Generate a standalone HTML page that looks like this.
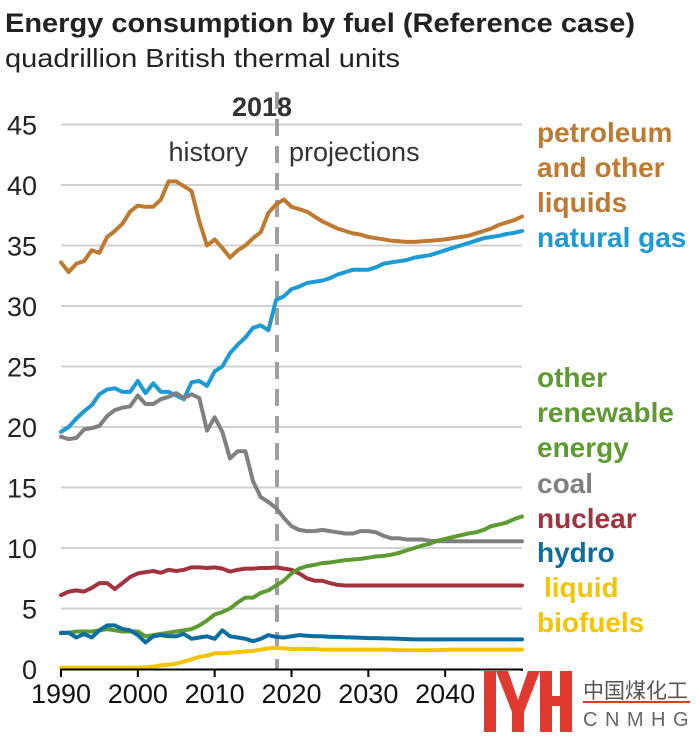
<!DOCTYPE html>
<html><head><meta charset="utf-8"><style>
html,body{margin:0;padding:0;background:#fff;}
body{width:696px;height:737px;overflow:hidden;font-family:"Liberation Sans",Arial,sans-serif;}
</style></head><body>
<svg id="s" width="696" height="737" xmlns="http://www.w3.org/2000/svg" font-family="Liberation Sans, Arial, sans-serif">
<text x="5" y="32" font-size="27" font-weight="bold" fill="#222" textLength="630" lengthAdjust="spacingAndGlyphs">Energy consumption by fuel (Reference case)</text>
<text x="5" y="67" font-size="26" fill="#222" textLength="395" lengthAdjust="spacingAndGlyphs">quadrillion British thermal units</text>
<g id="grid" stroke="#d0d0d0" stroke-width="2"></g>
<g id="ylab" font-size="27" fill="#222" text-anchor="end"></g>
<line x1="277" y1="92" x2="277" y2="669" stroke="#a0a0a0" stroke-width="4" stroke-dasharray="17,10"/>
<text x="262" y="116" font-size="27" font-weight="bold" fill="#333" text-anchor="middle">2018</text>
<text x="248" y="161" font-size="27" fill="#333" text-anchor="end">history</text>
<text x="289" y="161" font-size="27" fill="#333">projections</text>
<g id="lines" fill="none" stroke-width="4" stroke-linejoin="round" stroke-linecap="round"></g>
<line x1="61" y1="669.5" x2="523" y2="669.5" stroke="#000" stroke-width="2"/>
<g id="ticks" stroke="#000" stroke-width="2"></g>
<g id="xlab" font-size="27" fill="#111" text-anchor="middle"></g>
<g font-size="28" font-weight="bold">
<text x="537" y="142" fill="#C07A30">petroleum</text>
<text x="537" y="177" fill="#C07A30">and other</text>
<text x="537" y="212" fill="#C07A30">liquids</text>
<text x="537" y="247" fill="#1B9AD6">natural gas</text>
<text x="537" y="387" fill="#5D9B31">other</text>
<text x="537" y="422" fill="#5D9B31">renewable</text>
<text x="537" y="457" fill="#5D9B31">energy</text>
<text x="537" y="493" fill="#808080">coal</text>
<text x="537" y="528" fill="#A3323C">nuclear</text>
<text x="537" y="562" fill="#0C6E9E">hydro</text>
<text x="544" y="597" fill="#F5C400">liquid</text>
<text x="537" y="632" fill="#F5C400">biofuels</text>
</g>
<rect x="482" y="671" width="92" height="62" fill="#fff"/>
<g fill="#E03A30">
<rect x="484" y="671" width="12" height="61"/>
<polygon points="496,671 508,671 518,700 528,671 540,671 524,712 512,712"/>
<rect x="512" y="700" width="12" height="32"/>
<rect x="540" y="671" width="12" height="61"/>
<rect x="560" y="671" width="12" height="61"/>
<rect x="552" y="696" width="8" height="10"/>
</g>
<text x="583" y="698" font-size="21" fill="#555" font-family="Liberation Sans, Noto Sans CJK SC, sans-serif">中国煤化工</text>
<rect x="583" y="701" width="107" height="2" fill="#E03A30"/>
<text x="583" y="726" font-size="20" fill="#666" letter-spacing="7.5">CNMHG</text>
</svg>
<script>
var X=function(y){return 61+7.683*(y-1990);},Y=function(v){return 669-12.1*v;};
var ns="http://www.w3.org/2000/svg";
function el(p,t,a,txt){var e=document.createElementNS(ns,t);for(var k in a)e.setAttribute(k,a[k]);if(txt!==undefined)e.textContent=txt;document.getElementById(p).appendChild(e);}
for(var v=5;v<=45;v+=5)el("grid","line",{x1:61,x2:522,y1:Y(v),y2:Y(v)});
for(var v=0;v<=45;v+=5)el("ylab","text",{x:37,y:Y(v)+10},v);
for(var y=1990;y<=2050;y+=10){el("ticks","line",{x1:X(y),x2:X(y),y1:669,y2:677});if(y<2050)el("xlab","text",{x:X(y),y:703},y);}
function ext(a,n){while(a.length<n)a.push(a[a.length-1]);return a;}
var S=[
["#C07A30",[33.6,32.8,33.5,33.7,34.6,34.4,35.7,36.2,36.8,37.8,38.3,38.2,38.2,38.8,40.3,40.3,39.9,39.5,37.0,35.0,35.5,34.8,34.0,34.6,35.0,35.6,36.1,37.7,38.4,38.8,38.2,38.0,37.8,37.4,37.0,36.7,36.4,36.2,36.0,35.9,35.7,35.6,35.5,35.4,35.35,35.3,35.3,35.35,35.4,35.45,35.5,35.6,35.7,35.8,36.0,36.2,36.4,36.7,36.9,37.1,37.4]],
["#1B9AD6",[19.6,20.0,20.7,21.3,21.8,22.7,23.1,23.2,22.9,22.9,23.8,22.8,23.6,22.9,22.9,22.6,22.3,23.7,23.8,23.4,24.6,25.0,26.1,26.8,27.4,28.2,28.4,28.0,30.5,30.8,31.4,31.6,31.9,32.0,32.1,32.3,32.6,32.8,33.0,33.0,33.0,33.2,33.5,33.6,33.7,33.8,34.0,34.1,34.2,34.4,34.6,34.8,35.0,35.2,35.4,35.6,35.7,35.8,35.95,36.05,36.2]],
["#808080",ext([19.2,19.0,19.1,19.8,19.9,20.1,20.9,21.4,21.6,21.7,22.6,21.9,21.9,22.3,22.5,22.8,22.4,22.7,22.4,19.7,20.8,19.6,17.4,18.0,18.0,15.5,14.2,13.8,13.3,12.5,11.8,11.5,11.4,11.4,11.5,11.4,11.3,11.2,11.2,11.4,11.4,11.3,11.0,10.8,10.8,10.7,10.7,10.7,10.6,10.55],61)],
["#A3323C",ext([6.1,6.4,6.5,6.4,6.7,7.1,7.1,6.6,7.1,7.6,7.9,8.0,8.1,7.95,8.2,8.1,8.2,8.4,8.4,8.35,8.4,8.3,8.05,8.2,8.3,8.3,8.35,8.35,8.4,8.3,8.2,7.9,7.5,7.3,7.3,7.1,6.95,6.9],61)],
["#5D9B31",[2.95,3.0,3.1,3.1,3.1,3.2,3.3,3.2,3.1,3.1,3.1,2.7,2.8,2.9,3.0,3.1,3.2,3.3,3.6,4.0,4.5,4.7,5.0,5.5,5.9,5.9,6.3,6.5,6.9,7.3,7.9,8.3,8.5,8.6,8.75,8.8,8.9,9.0,9.05,9.1,9.2,9.3,9.35,9.45,9.6,9.8,10.0,10.2,10.35,10.6,10.75,10.9,11.05,11.2,11.3,11.5,11.8,11.95,12.1,12.4,12.6]],
["#0C6E9E",ext([3.0,3.0,2.6,2.9,2.6,3.2,3.6,3.6,3.3,3.2,2.8,2.2,2.7,2.8,2.7,2.7,2.9,2.5,2.6,2.7,2.5,3.2,2.7,2.6,2.5,2.3,2.5,2.8,2.65,2.6,2.7,2.8,2.75,2.7,2.7,2.65,2.65,2.62,2.6,2.58,2.55,2.55,2.53,2.52,2.5,2.47,2.45],61)],
["#F5C400",ext([0.1,0.1,0.1,0.1,0.1,0.1,0.1,0.1,0.1,0.1,0.1,0.15,0.2,0.3,0.35,0.45,0.6,0.8,1.0,1.1,1.3,1.3,1.35,1.4,1.45,1.5,1.6,1.7,1.75,1.7,1.65,1.65,1.65,1.65,1.6,1.6,1.6,1.6,1.6,1.6,1.6,1.6,1.6,1.58,1.55,1.55,1.55,1.55,1.55,1.55,1.58,1.6],61)]
];
S.forEach(function(s){var p=s[1].map(function(v,i){return X(1990+i).toFixed(1)+","+Y(v).toFixed(1);}).join(" ");el("lines","polyline",{points:p,stroke:s[0]});});
</script>
</body></html>
